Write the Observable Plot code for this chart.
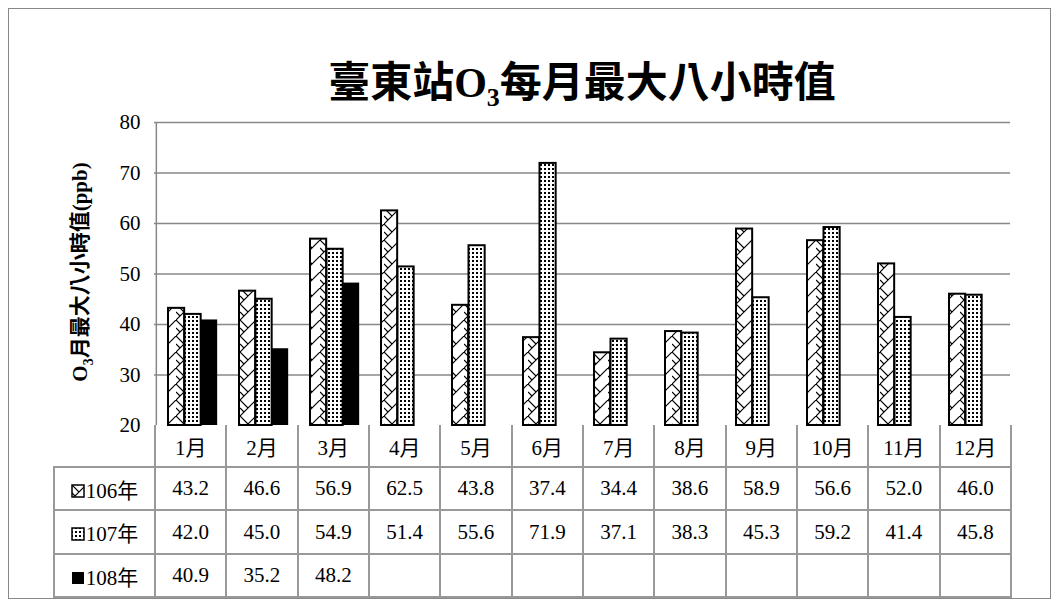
<!DOCTYPE html>
<html><head><meta charset="utf-8">
<script src="https://cdn.jsdelivr.net/npm/d3@7"></script>
<script src="https://cdn.jsdelivr.net/npm/@observablehq/plot@0.6"></script>
<style>
body{margin:0;background:#fff;font-family:"Liberation Serif","Noto Sans CJK TC",serif;}
#wrap{position:relative;width:1061px;height:608px;}
#frame{position:absolute;left:8px;top:8px;width:1043px;height:591px;border:1px solid #888;box-sizing:border-box;}
#title{position:absolute;left:154px;width:856px;top:48px;text-align:center;font-size:42px;font-weight:bold;}
#ylab{position:absolute;left:80px;top:272px;transform:translate(-50%,-50%) rotate(-90deg);font-size:21px;font-weight:bold;white-space:nowrap;}
table{position:absolute;border-collapse:collapse;font-size:21px;table-layout:fixed;}
td{border:2px solid #999;text-align:center;padding:0;overflow:hidden;white-space:nowrap;}
</style></head><body>
<div id="wrap"><div id="frame"></div>
<div id="title">臺東站O<sub style="font-size:26px">3</sub>每月最大八小時值</div>
<div id="ylab">O<sub style="font-size:14px">3</sub>月最大八小時值(ppb)</div>
</div>
<script>
const months=["1月","2月","3月","4月","5月","6月","7月","8月","9月","10月","11月","12月"];
const series=["106年","107年","108年"];
const v106=[43.2,46.6,56.9,62.5,43.8,37.4,34.4,38.6,58.9,56.6,52.0,46.0];
const v107=[42.0,45.0,54.9,51.4,55.6,71.9,37.1,38.3,45.3,59.2,41.4,45.8];
const v108=[40.9,35.2,48.2,null,null,null,null,null,null,null,null,null];
const yTicks=[20,30,40,50,60,70,80];
const vals=[v106,v107,v108];
const fills=["url(#p106)","url(#p107)","#000"];
const W=1061,H=608,ML=154,MR=51,MT=122,MB=183;
const cw=(W-ML-MR)/12, bw=16.5, off=12;
const marks=[Plot.gridY(yTicks.slice(1),{stroke:"#888",strokeOpacity:1,strokeWidth:1.5}),
 Plot.ruleX([0],{x:()=>months[0],dx:-cw/2,stroke:"#888",strokeWidth:1.5})];
vals.forEach((arr,i)=>{
 const d=months.map((m,j)=>({m,v:arr[j]})).filter(o=>o.v!=null);
 marks.push(Plot.rectY(d,{x:"m",y1:20,y2:"v",fill:fills[i],stroke:"#000",strokeWidth:i==2?0:2,
  insetLeft:off+bw*i,insetRight:cw-off-bw*(i+1)}));
});
marks.push(Plot.axisY(yTicks,{tickSize:0,tickPadding:14,fontSize:21,anchor:"left",label:null}));
const plot=Plot.plot({width:W,height:H,marginLeft:ML,marginRight:MR,marginTop:MT,marginBottom:MB,
 style:{fontFamily:"Liberation Serif, serif",background:"transparent"},
 x:{type:"band",domain:months,padding:0,axis:null},
 y:{domain:[20,80],axis:null,label:null},marks});
const defs=d3.select(plot).insert("defs",":first-child");
const p1=defs.append("pattern").attr("id","p106").attr("patternUnits","userSpaceOnUse").attr("width",16).attr("height",16);
p1.append("rect").attr("width",16).attr("height",16).attr("fill","#fff");
p1.append("path").attr("d","M0,16 L16,0 M0,0 L8,8 M0,8 L4,12").attr("stroke","#000").attr("stroke-width",1.2).attr("fill","none");
const p2=defs.append("pattern").attr("id","p107").attr("patternUnits","userSpaceOnUse").attr("width",4).attr("height",4);
p2.append("rect").attr("width",4).attr("height",4).attr("fill","#fff");
p2.append("rect").attr("width",2).attr("height",2).attr("fill","#000");
plot.style.position="absolute";plot.style.left="0";plot.style.top="0";
const wrap=document.getElementById("wrap");
wrap.appendChild(plot);
const t=document.createElement("table");
t.style.left="53px";t.style.top="425px";t.style.width=(W-MR-53)+"px";
const rowH=[43,43,44,43];
let html=`<colgroup><col style="width:${ML-53}px">`+months.map(()=>`<col style="width:${cw}px">`).join("")+`</colgroup>`;
html+=`<tr><td style="height:${rowH[0]-2}px;border:none;border-right:2px solid #999;border-bottom:2px solid #999"></td>`+months.map(m=>`<td style="border-top:none">${m}</td>`).join("")+"</tr>";
const sym=[`<svg width="14" height="14" style="margin-right:1px"><rect x="1" y="1" width="12" height="12" fill="url(#p106)" stroke="#000" stroke-width="1.5"/></svg>`,
`<svg width="14" height="14" style="margin-right:1px"><rect x="1" y="1" width="12" height="12" fill="url(#p107)" stroke="#000" stroke-width="1.5"/></svg>`,
`<svg width="14" height="14" style="margin-right:1px"><rect x="1" y="1" width="12" height="12" fill="#000"/></svg>`];
series.forEach((s,i)=>{
 html+=`<tr><td style="height:${rowH[i+1]-2}px">${sym[i]}${s}</td>`+vals[i].map(v=>`<td>${v==null?"":v.toFixed(1)}</td>`).join("")+"</tr>";
});
t.innerHTML=html;
wrap.appendChild(t);
</script></body></html>
